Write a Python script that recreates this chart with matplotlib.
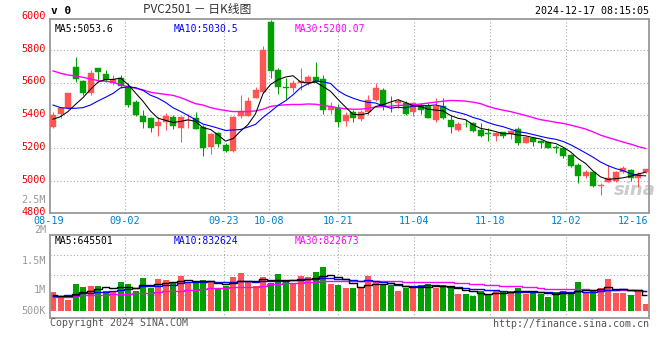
import matplotlib
matplotlib.use('Agg')
import matplotlib.pyplot as plt
import numpy as np
import pandas as pd

# ---- data (PVC2501, daily) ----
dates = ['08-19', '09-02', '09-23', '10-08', '10-21', '11-04', '11-18', '12-02', '12-16']
date_idx = [0, 10, 23, 29, 38, 48, 58, 68, 78]

opens = [5332, 5409, 5448, 5698, 5613, 5540, 5688, 5651, 5596, 5631,
         5580, 5485, 5399, 5383, 5338, 5358, 5391, 5326, 5370, 5383,
         5328, 5210, 5295, 5220, 5185, 5399, 5399, 5509, 5542, 5973,
         5678, 5573, 5566, 5601, 5596, 5637, 5623, 5434, 5444, 5366,
         5419, 5379, 5419, 5495, 5556, 5470, 5474, 5474, 5424, 5464,
         5460, 5373, 5460, 5373, 5312, 5350, 5352, 5312, 5293, 5277,
         5297, 5285, 5316, 5234, 5261, 5244, 5236, 5206, 5204, 5159,
         5098, 5033, 5053, 4970, 4996, 5000, 5057, 5067, 5017, 5057]
highs = [5419, 5450, 5540, 5759, 5617, 5678, 5692, 5678, 5647, 5647,
         5596, 5495, 5434, 5393, 5393, 5413, 5403, 5399, 5409, 5419,
         5342, 5291, 5301, 5230, 5397, 5525, 5515, 5576, 5826, 5983,
         5688, 5627, 5617, 5688, 5647, 5729, 5647, 5480, 5468, 5423,
         5434, 5434, 5525, 5596, 5570, 5519, 5501, 5489, 5480, 5474,
         5474, 5505, 5505, 5403, 5358, 5373, 5362, 5352, 5322, 5301,
         5301, 5312, 5332, 5277, 5271, 5250, 5244, 5220, 5210, 5163,
         5108, 5067, 5057, 4986, 5098, 5061, 5094, 5073, 5057, 5073]
lows = [5326, 5387, 5440, 5607, 5525, 5525, 5607, 5607, 5586, 5570,
        5454, 5399, 5322, 5301, 5277, 5312, 5318, 5240, 5326, 5318,
        5155, 5163, 5210, 5179, 5179, 5383, 5399, 5505, 5535, 5627,
        5531, 5501, 5542, 5556, 5586, 5603, 5409, 5407, 5332, 5338,
        5358, 5366, 5403, 5489, 5434, 5419, 5444, 5405, 5397, 5409,
        5383, 5358, 5379, 5291, 5305, 5332, 5301, 5271, 5246, 5246,
        5260, 5257, 5220, 5230, 5216, 5200, 5200, 5169, 5143, 5088,
        4986, 5017, 4966, 4915, 4996, 4996, 5047, 5000, 4966, 5047]
closes = [5403, 5444, 5535, 5621, 5540, 5658, 5664, 5615, 5623, 5582,
          5464, 5403, 5362, 5326, 5362, 5399, 5338, 5393, 5375, 5318,
          5200, 5287, 5228, 5185, 5393, 5428, 5489, 5556, 5800, 5672,
          5576, 5570, 5596, 5611, 5637, 5607, 5434, 5450, 5362, 5403,
          5387, 5419, 5495, 5570, 5460, 5468, 5489, 5409, 5474, 5434,
          5387, 5460, 5387, 5332, 5348, 5346, 5305, 5277, 5289, 5295,
          5277, 5308, 5234, 5267, 5240, 5234, 5204, 5202, 5155, 5094,
          5033, 5053, 4972, 4974, 5017, 5057, 5078, 5021, 5041, 5071]
# volume, thousands of lots
volumes = [798, 546, 448, 1120, 1008, 1036, 1036, 826, 798, 1218,
           1120, 826, 1386, 938, 1330, 1288, 1148, 1456, 1218, 1148,
           1288, 1218, 952, 1050, 1414, 1582, 1218, 1050, 1414, 1176,
           1540, 1218, 1106, 1456, 1400, 1610, 1820, 1120, 1078, 952,
           952, 952, 1470, 1218, 1078, 1078, 826, 966, 966, 1078,
           1134, 966, 1078, 966, 700, 700, 616, 826, 700, 826,
           826, 826, 966, 700, 756, 700, 574, 770, 826, 798,
           1218, 728, 826, 952, 1330, 756, 756, 658, 826, 280]

# moving-average values at the left edge (history before 08-19)
ma5_head = [5377, 5393, 5424, 5468]
ma10_head = [5464, 5448, 5444, 5444, 5448, 5464, 5489, 5511, 5535]
ma30_head = [5672, 5658, 5647, 5641, 5633, 5623, 5613, 5609, 5603, 5586,
             5576, 5566, 5556, 5542, 5535, 5529, 5523, 5509, 5491, 5472,
             5464, 5448, 5438, 5430, 5424, 5424, 5424, 5428, 5438]
vma5_head = [658, 616, 616, 700]
vma10_head = [616, 616, 644, 672, 728, 756, 784, 798, 826]
vma30_head = [588, 588, 588, 616, 658, 658, 658, 672, 700, 700,
              714, 742, 742, 756, 784, 826, 826, 840, 868, 882,
              924, 938, 938, 952, 980, 980, 994, 994, 1022]

def ma(vals, n, head):
    s = pd.Series(vals, dtype=float).rolling(n).mean().values
    s[:len(head)] = head
    return s

x = np.arange(len(closes))
o = np.array(opens); c = np.array(closes)
up = c >= o
RED = '#ff5555'
GREEN = '#00a000'
cols = np.where(up, RED, GREEN)

W, H = 660, 360
fig = plt.figure(figsize=(6.6, 3.6), dpi=100)

def rect(l, t, r, b):
    return [l / W, 1 - b / H, (r - l) / W, (b - t) / H]

ax = fig.add_axes(rect(50, 19, 649.3, 213.3))
axv = fig.add_axes(rect(50, 234.7, 649.3, 318.3))

MONO = 'DejaVu Sans Mono'
gridkw = dict(color='#aaaaaa', lw=0.8, ls=(0, (1, 2)), zorder=0)
grid_x = [i * 7.6 / 7.5 - 0.533 for i in date_idx[1:-1]]

for a in (ax, axv):
    a.set_xlim(-0.4, 79.5)
    a.set_xticks([]); a.set_yticks([])
    for sp in a.spines.values():
        sp.set_color('#999999'); sp.set_linewidth(1.3)
    for gx in grid_x:
        a.axvline(gx, **gridkw)

# ---- price panel ----
ax.set_ylim(4803, 5989)
for lv in [5000, 5200, 5400, 5600, 5800]:
    ax.axhline(lv, **gridkw)
ax.vlines(x, lows, highs, colors=cols, lw=0.75, zorder=2)
body = np.maximum(np.abs(c - o), 4)
ax.bar(x, body, bottom=np.minimum(o, c), width=0.8, color=cols,
       edgecolor=cols, lw=0.3, zorder=3)
ax.plot(x, ma(closes, 30, ma30_head), color='#ff00ff', lw=1.0, zorder=4)
ax.plot(x, ma(closes, 10, ma10_head), color='#0000ff', lw=0.8, zorder=4)
ax.plot(x, ma(closes, 5, ma5_head), color='black', lw=0.75, zorder=4)

ytr = ax.get_yaxis_transform()
for lv in [6000, 5800, 5600, 5400, 5200, 5000, 4800]:
    ax.text(-0.0067, lv + 8, str(lv), transform=ytr, ha='right', va='center',
            color='#ee0000', fontsize=7.3, family=MONO, clip_on=False)

xtr = ax.get_xaxis_transform()
for lab, i in zip(dates, date_idx):
    gx = i * 7.6 / 7.5 - 0.533
    if lab == '12-16':
        ax.text(79.4, -0.04, lab, transform=xtr, ha='right', va='center',
                color='#0080cc', fontsize=7.3, family=MONO)
    else:
        ax.text(gx, -0.04, lab, transform=xtr, ha='center', va='center',
                color='#0080cc', fontsize=7.3, family=MONO)

ax.text(0.008, 0.975, 'MA5:5053.6', transform=ax.transAxes, ha='left', va='top',
        fontsize=7, family=MONO, color='black')
ax.text(0.207, 0.975, 'MA10:5030.5', transform=ax.transAxes, ha='left', va='top',
        fontsize=7, family=MONO, color='#0000ff')
ax.text(0.409, 0.975, 'MA30:5200.07', transform=ax.transAxes, ha='left', va='top',
        fontsize=7, family=MONO, color='#ff00ff')
ax.text(0.975, 0.12, 'sina', transform=ax.transAxes, ha='center', va='center',
        fontsize=13, style='italic', fontweight='bold', color='#cccccc', zorder=1)

# ---- volume panel ----
axv.set_ylim(-319, 3192)
for lv in [2339, 1499, 659]:
    axv.axhline(lv, **gridkw)
axv.bar(x, volumes, width=0.8, color=cols, lw=0, zorder=2)
axv.plot(x, ma(volumes, 30, vma30_head), color='#ff00ff', lw=1.0,
         drawstyle='steps-mid', zorder=3)
axv.plot(x, ma(volumes, 10, vma10_head), color='#0000ff', lw=1.0,
         drawstyle='steps-mid', zorder=3)
axv.plot(x, ma(volumes, 5, vma5_head), color='black', lw=1.0,
         drawstyle='steps-mid', zorder=3)

vtr = axv.get_yaxis_transform()
for pos, lab in zip([3400, 2100, 860, 0], ['2M', '1.5M', '1M', '500K']):
    axv.text(-0.0067, pos, lab, transform=vtr, ha='right', va='center',
             color='#999999', fontsize=7.3, family=MONO, clip_on=False)
fig.text(46 / W, 1 - 200 / H, '2.5M', ha='right', va='center',
         color='#999999', fontsize=7.3, family=MONO)

axv.text(0.008, 0.98, 'MA5:645501', transform=axv.transAxes, ha='left', va='top',
         fontsize=7, family=MONO, color='black')
axv.text(0.207, 0.98, 'MA10:832624', transform=axv.transAxes, ha='left', va='top',
         fontsize=7, family=MONO, color='#0000ff')
axv.text(0.409, 0.98, 'MA30:822673', transform=axv.transAxes, ha='left', va='top',
         fontsize=7, family=MONO, color='#ff00ff')

# ---- header / footer ----
fig.text(51 / W, 1 - 11 / H, 'v 0', ha='left', va='center', fontsize=8,
         fontweight='bold', family=MONO, color='black')
fig.text(197 / W, 1 - 10 / H, 'PVC2501 － 日K线图', ha='center', va='center',
         fontsize=8.5, family=['Noto Sans CJK SC', 'DejaVu Sans'], color='#333333')
fig.text(649 / W, 1 - 11 / H, '2024-12-17 08:15:05', ha='right', va='center',
         fontsize=7.2, family=MONO, color='black')
fig.text(50 / W, 1 - 323 / H, 'Copyright 2024 SINA.COM', ha='left', va='center',
         fontsize=7.2, family=MONO, color='#555555')
fig.text(649 / W, 1 - 324 / H, 'http://finance.sina.com.cn', ha='right', va='center',
         fontsize=7.2, family=MONO, color='#555555')

fig.savefig('out.png', dpi=100, facecolor='white')
